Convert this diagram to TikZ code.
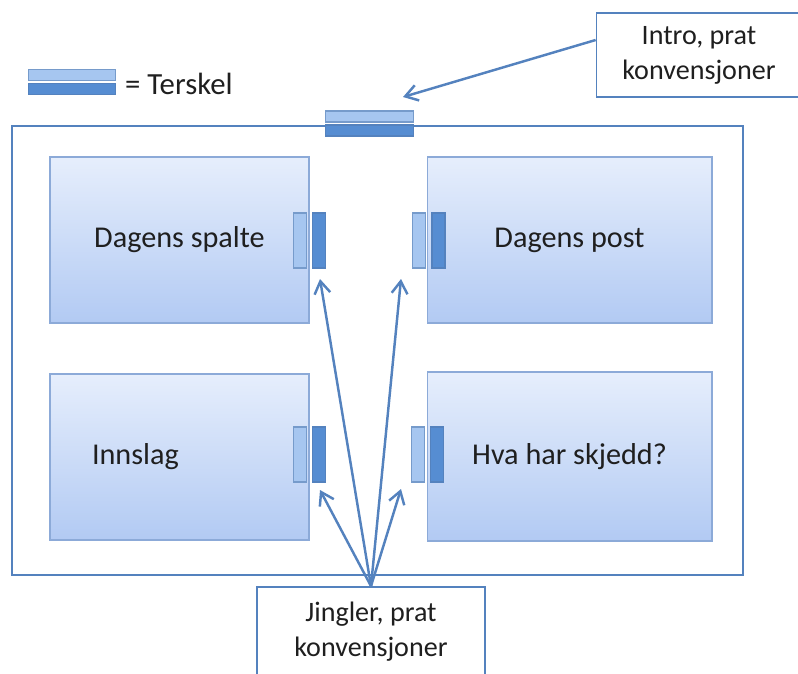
\documentclass[tikz,border=0pt]{standalone}
\usepackage{fontspec}
\setmainfont{Carlito}
\usetikzlibrary{arrows.meta,positioning,calc}
\definecolor{linjeblaa}{RGB}{84,130,190}
\definecolor{boksrand}{RGB}{140,170,216}
\definecolor{bokstopp}{RGB}{230,238,252}
\definecolor{boksbunn}{RGB}{178,202,243}
\definecolor{lysblaa}{RGB}{166,198,240}
\definecolor{morkblaa}{RGB}{86,141,210}

\begin{document}
\begin{tikzpicture}[x=0.02cm,y=-0.02cm,>={Straight Barb[length=7pt,width=9pt]},
  every node/.style={font=\fontsize{16}{20}\selectfont,text=black!88},
  boks/.style={draw=boksrand,line width=0.6pt,top color=bokstopp,bottom color=boksbunn,minimum width=5.18cm,minimum height=3.32cm,font=\fontsize{17.2}{20}\selectfont},
  lys/.style={draw=linjeblaa!80,line width=0.6pt,fill=lysblaa,inner sep=0pt},
  mork/.style={draw=linjeblaa,line width=0.6pt,fill=morkblaa,inner sep=0pt},
  staende/.style={minimum width=0.26cm,minimum height=1.1cm},
  liggende/.style={minimum width=1.75cm,minimum height=0.22cm},
  merknad/.style={draw=linjeblaa,line width=1pt,fill=white,align=center},
  pil/.style={->,draw=linjeblaa,line width=1.4pt}]
%
  \useasboundingbox (0,0) rectangle (798,673);
%
% ramme og terskel inn
  \draw[linjeblaa,line width=1.1pt] (12,126) rectangle (743,575);
  \node[lys,liggende] (topplys) at (369.5,116.5) {};
  \node[mork,liggende] (toppmork) at (369.5,130.5) {};
%
% forklaring
  \node[lys,liggende] (forklys) at (72,75) {};
  \node[mork,liggende] (forkmork) at (72,89) {};
  \node[anchor=west,font=\fontsize{17.5}{20}\selectfont] (forktekst) at (119,84) {= Terskel};
%
% boksene
  \node[boks] (spalte) at (179.5,240) {Dagens spalte};
  \node[boks,minimum width=5.7cm] (post) at (569.5,240) {Dagens post};
  \node[boks,text width=3.5cm,align=left] (innslag) at (179.5,457) {Innslag};
  \node[boks,minimum width=5.7cm,minimum height=3.38cm] (skjedd) at (569.5,456.5) {Hva har skjedd?};
%
% tersklene
  \node[lys,staende] (spaltelys) at (300,240.5) {};
  \node[mork,staende] (spaltemork) at (319,240.5) {};
  \node[lys,staende] (postlys) at (419,240.5) {};
  \node[mork,staende] (postmork) at (438.5,240.5) {};
  \node[lys,staende] (innslaglys) at (300,454.5) {};
  \node[mork,staende] (innslagmork) at (319,454.5) {};
  \node[lys,staende] (skjeddlys) at (418,454.5) {};
  \node[mork,staende] (skjeddmork) at (437,454.5) {};
%
% merknader
  \node[merknad,minimum width=4.1cm,minimum height=1.68cm] (intro) at (699,55) {Intro, prat\\konvensjoner};
  \node[merknad,minimum width=4.56cm,minimum height=1.8cm] (jingler) at (371,632) {Jingler, prat\\konvensjoner};
%
  \coordinate (introut) at ($(intro.west)+(0,-15)$);
  \coordinate (tilterskel) at (403,97);
  \coordinate (tilspalte) at (320,279);
  \coordinate (tilpost) at (401,279);
  \coordinate (tilinnslag) at (320,490);
  \coordinate (tilskjedd) at (401,489);
%
  \draw[pil] (introut) -- (tilterskel);
  \draw[pil] (jingler.north) -- (tilspalte);
  \draw[pil] (jingler.north) -- (tilpost);
  \draw[pil] (jingler.north) -- (tilinnslag);
  \draw[pil] (jingler.north) -- (tilskjedd);
\end{tikzpicture}
\end{document}
